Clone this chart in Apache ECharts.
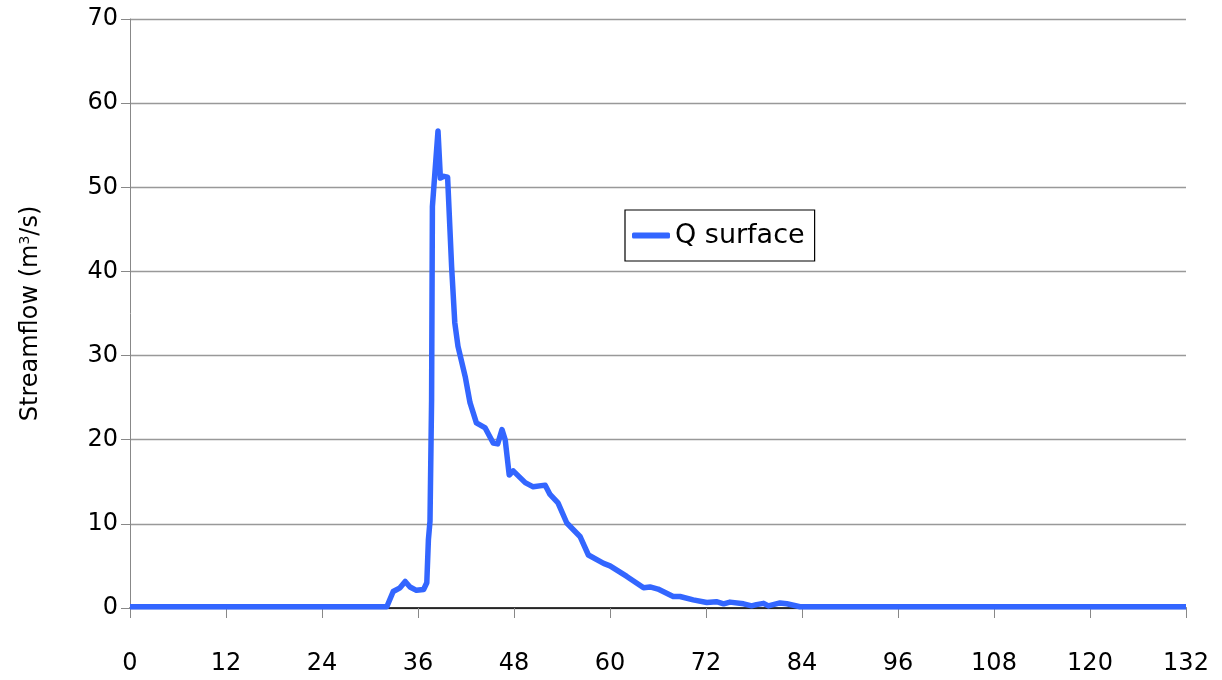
<!DOCTYPE html>
<html>
<head>
<meta charset="utf-8">
<script src="https://cdn.jsdelivr.net/npm/echarts@6/dist/echarts.min.js"></script>
<style>
  html, body { margin: 0; padding: 0; background: #fff; }
  #chart { width: 1222px; height: 680px; }
</style>
</head>
<body>
<div id="chart"></div>
<script>
// time (hours) and surface streamflow (m3/s)
var hours = [0, 32.1, 32.9, 33.75, 34.4, 35.0, 35.8, 36.7, 37.1, 37.3, 37.5, 37.7, 37.8, 38.5, 38.8, 39.25, 39.7,
  40.2, 40.6, 41.0, 41.9, 42.5, 43.3, 44.4, 45.4, 45.96, 46.5, 46.9, 47.4, 47.9, 49.4, 50.4, 51.9, 52.5, 53.5,
  54.6, 56.25, 57.3, 59.2, 60.0, 62.1, 64.2, 65.0, 66.0, 67.9, 68.75, 70.4, 72.1, 73.3, 74.2, 75.0, 76.7, 77.7,
  78.3, 79.2, 79.8, 81.25, 82.1, 83.75, 132];
var qSurface = [0.15, 0.15, 1.96, 2.4, 3.15, 2.5, 2.1, 2.2, 3.0, 8.1, 10.3, 24.8, 47.7, 56.7, 51.1, 51.3, 51.2,
  40.6, 33.9, 31.1, 27.5, 24.4, 22.0, 21.4, 19.6, 19.5, 21.2, 20.0, 15.8, 16.3, 14.9, 14.4, 14.6, 13.5, 12.5,
  10.1, 8.5, 6.3, 5.3, 5.0, 3.75, 2.4, 2.5, 2.25, 1.37, 1.37, 0.97, 0.65, 0.75, 0.5, 0.7, 0.5, 0.26,
  0.4, 0.55, 0.25, 0.6, 0.5, 0.15, 0.15];

var seriesData = []
for (let i = 0; i < hours.length; i++) {
  seriesData.push([hours[i], qSurface[i]])
}

var font = '"DejaVu Sans", "Open Sans", sans-serif'
var chart = echarts.init(document.getElementById('chart'))
chart.setOption({
  animation: false,
  textStyle: { fontFamily: font },
  grid: { left: 130, right: 36, top: 19, bottom: 72 },
  legend: {
    left: 625, top: 210,
    data: ['Q surface'],
    icon: 'roundRect',
    itemWidth: 38, itemHeight: 6,
    itemGap: 7,
    borderColor: '#000', borderWidth: 1.2,
    padding: [12, 10, 12, 7],
    textStyle: { fontSize: 27, color: '#000', fontFamily: font }
  },
  xAxis: {
    type: 'value', min: 0, max: 132, interval: 12,
    axisLine: { show: true, lineStyle: { color: '#000', width: 1.5 } },
    axisTick: { show: true, inside: false, length: 10, lineStyle: { color: '#888' } },
    axisLabel: { fontSize: 24, color: '#000', margin: 44, fontFamily: font },
    splitLine: { show: false }
  },
  yAxis: {
    type: 'value', min: 0, max: 70, interval: 10,
    name: 'Streamflow (m{sup|3}/s)',
    nameLocation: 'middle', nameGap: 86, nameRotate: 90,
    nameTextStyle: { fontSize: 24, color: '#000', fontFamily: font, rich: { sup: { fontSize: 14, verticalAlign: 'top', padding: [0, 0, 12, 0] } } },
    axisLine: { show: true, lineStyle: { color: '#888' } },
    axisTick: { show: true, inside: false, length: 9, lineStyle: { color: '#888' } },
    axisLabel: { fontSize: 24, color: '#000', margin: 12, fontFamily: font },
    splitLine: { show: true, lineStyle: { color: '#999', width: 1.3 } }
  },
  series: [{
    name: 'Q surface',
    type: 'line',
    data: seriesData,
    showSymbol: false,
    symbol: 'none',
    itemStyle: { color: '#3366ff' },
    lineStyle: { color: '#3366ff', width: 5.5, join: 'round' }
  }]
})
</script>
</body>
</html>
